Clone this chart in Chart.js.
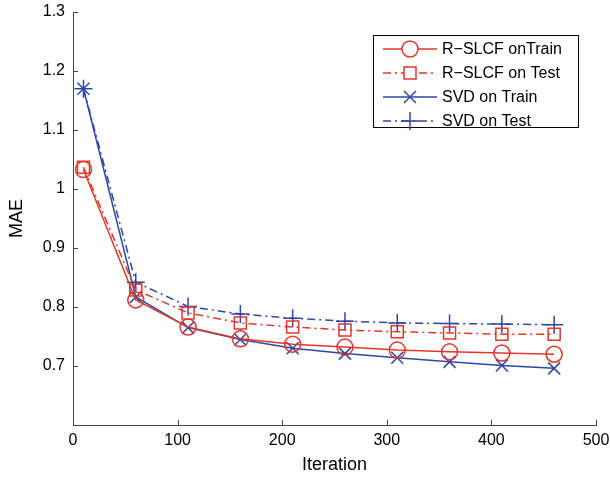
<!DOCTYPE html>
<html>
<head>
<meta charset="utf-8">
<script src="https://cdn.jsdelivr.net/npm/chart.js@4/dist/chart.umd.min.js"></script>
<style>
  html, body { margin: 0; padding: 0; background: #fff; }
  #wrap { width: 610px; height: 480px; }
</style>
</head>
<body>
<div id="wrap"><canvas id="maeChart" width="610" height="480"></canvas></div>
<script>
const iterations = [10, 60, 110, 160, 210, 260, 310, 360, 410, 460];
const rslcfTrain = [1.033, 0.812, 0.766, 0.746, 0.737, 0.732, 0.727, 0.724, 0.722, 0.720];
const rslcfTest  = [1.037, 0.829, 0.790, 0.773, 0.766, 0.761, 0.758, 0.756, 0.754, 0.754];
const svdTrain   = [1.170, 0.817, 0.765, 0.745, 0.730, 0.721, 0.714, 0.707, 0.701, 0.696];
const svdTest    = [1.170, 0.842, 0.801, 0.788, 0.781, 0.776, 0.773, 0.772, 0.771, 0.770];
const xTicks = [0, 100, 200, 300, 400, 500];
const yTicks = [0.7, 0.8, 0.9, 1, 1.1, 1.2, 1.3];

const RED = "#e2372c";
const BLUE = "#2f47a3";
const FONT = "'Liberation Sans', Arial, Helvetica, sans-serif";

const toXY = vals => vals.map((v, i) => ({ x: iterations[i], y: v }));

// inward tick marks like the original figure
const innerTicks = {
  id: "innerTicks",
  afterDraw(chart) {
    const { ctx, chartArea, scales } = chart;
    ctx.save();
    ctx.strokeStyle = "#444";
    ctx.lineWidth = 1;
    ctx.beginPath();
    xTicks.forEach(t => {
      const px = Math.round(scales.x.getPixelForValue(t)) + 0.5;
      ctx.moveTo(px, chartArea.bottom);
      ctx.lineTo(px, chartArea.bottom - 5);
    });
    yTicks.forEach(t => {
      const py = Math.round(scales.y.getPixelForValue(t)) + 0.5;
      ctx.moveTo(chartArea.left, py);
      ctx.lineTo(chartArea.left + 5, py);
    });
    ctx.stroke();
    ctx.restore();
  }
};

// matlab style legend box with line + marker samples
const boxLegend = {
  id: "boxLegend",
  afterDraw(chart) {
    const { ctx } = chart;
    const left = 373, top = 35, right = 578, bottom = 127;
    ctx.save();
    ctx.fillStyle = "#fff";
    ctx.fillRect(left, top, right - left, bottom - top);
    ctx.strokeStyle = "#000";
    ctx.lineWidth = 1;
    ctx.strokeRect(left + 0.5, top + 0.5, right - left, bottom - top);
    chart.data.datasets.forEach((ds, i) => {
      const y = 49 + i * 24;
      ctx.strokeStyle = ds.borderColor;
      ctx.lineWidth = 1.5;
      ctx.setLineDash(ds.borderDash || []);
      ctx.beginPath();
      ctx.moveTo(383, y);
      ctx.lineTo(437, y);
      ctx.stroke();
      ctx.setLineDash([]);
      ctx.fillStyle = "#fff";
      Chart.helpers.drawPoint(ctx, {
        pointStyle: ds.pointStyle,
        radius: ds.pointRadius,
        borderWidth: 1.5,
        rotation: 0
      }, 410, y);
      ctx.fillStyle = "#000";
      ctx.font = "16px " + FONT;
      ctx.textBaseline = "middle";
      ctx.fillText(ds.label, 442, y + 1);
    });
    ctx.restore();
  }
};

const ctx = document.getElementById("maeChart").getContext("2d");

new Chart(ctx, {
  type: "line",
  data: {
    datasets: [
      {
        label: "R\u2212SLCF onTrain",
        data: toXY(rslcfTrain),
        borderColor: RED,
        pointStyle: "circle",
        pointRadius: 8
      },
      {
        label: "R\u2212SLCF on Test",
        data: toXY(rslcfTest),
        borderColor: RED,
        borderDash: [8, 4, 2, 4],
        pointStyle: "rect",
        pointRadius: 8.5
      },
      {
        label: "SVD on Train",
        data: toXY(svdTrain),
        borderColor: BLUE,
        pointStyle: "crossRot",
        pointRadius: 8.5
      },
      {
        label: "SVD on Test",
        data: toXY(svdTest),
        borderColor: BLUE,
        borderDash: [8, 4, 2, 4],
        pointStyle: "cross",
        pointRadius: 9
      }
    ].map(ds => Object.assign({
      borderWidth: 1.5,
      pointBorderColor: ds.borderColor,
      pointBackgroundColor: "rgba(0,0,0,0)",
      pointBorderWidth: 1.5,
      fill: false,
      tension: 0
    }, ds))
  },
  options: {
    responsive: false,
    animation: false,
    layout: { padding: { top: 12, right: 14, left: 0, bottom: 0 } },
    plugins: {
      legend: { display: false },
      tooltip: { enabled: false }
    },
    scales: {
      x: {
        type: "linear",
        min: 0,
        max: 500,
        afterBuildTicks: s => { s.ticks = xTicks.map(v => ({ value: v })); },
        afterFit: s => { s.height = 55; s.paddingLeft = 0; s.paddingRight = 0; },
        grid: { display: false, drawTicks: false },
        border: { display: true, color: "#444", width: 1 },
        ticks: { color: "#000", padding: 6, font: { family: FONT, size: 16 } },
        title: {
          display: true,
          text: "Iteration",
          color: "#000",
          padding: { top: 8 },
          font: { family: FONT, size: 18 }
        }
      },
      y: {
        type: "linear",
        min: 0.6,
        max: 1.3,
        afterBuildTicks: s => { s.ticks = yTicks.map(v => ({ value: v })); },
        afterFit: s => { s.width = 73; s.paddingTop = 0; s.paddingBottom = 0; },
        grid: { display: false, drawTicks: false },
        border: { display: true, color: "#444", width: 1 },
        ticks: {
          color: "#000",
          padding: 8,
          font: { family: FONT, size: 16 },
          callback: v => String(Math.round(v * 10) / 10)
        },
        title: {
          display: true,
          text: "MAE",
          color: "#000",
          padding: { top: 6, bottom: 0 },
          font: { family: FONT, size: 18 }
        }
      }
    }
  },
  plugins: [innerTicks, boxLegend]
});
</script>
</body>
</html>
